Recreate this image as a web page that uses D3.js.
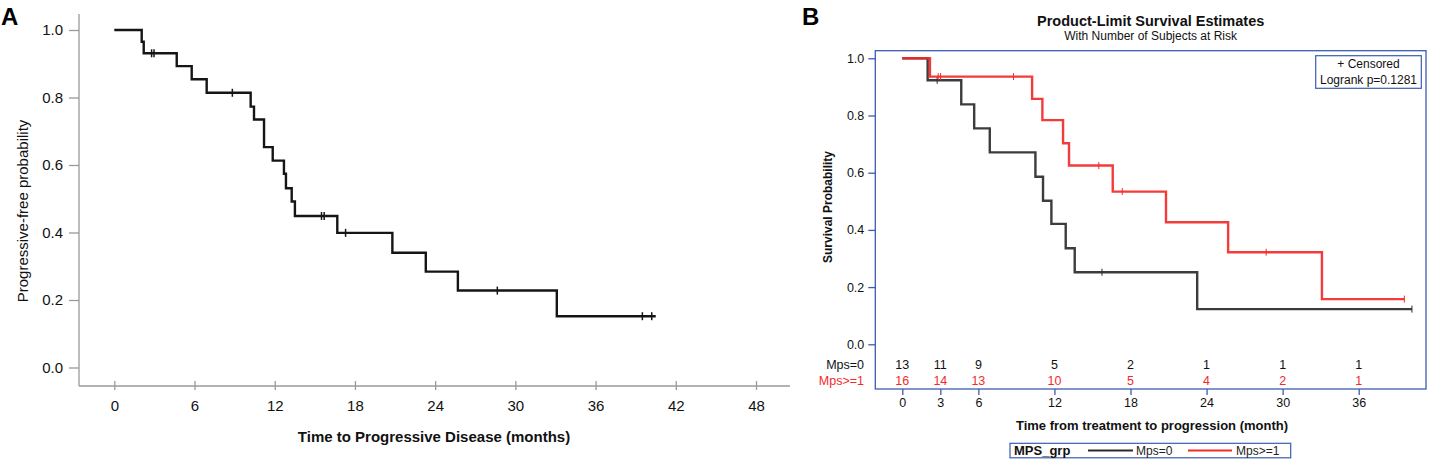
<!DOCTYPE html>
<html>
<head>
<meta charset="utf-8">
<script src="https://cdn.jsdelivr.net/npm/d3@7"></script>
<style>
    body { margin: 0; background: #fff; }
    svg { font-family: "Liberation Sans", Arial, sans-serif; }
</style>
</head>
<body>
<div id="chart"></div>
<script>

// Panel A - all patients
var timesA = [2.05, 2.2, 4.67, 5.79, 6.91, 10.2, 10.45, 11.2, 11.85, 12.69, 12.84, 13.27, 13.51, 16.68, 20.8, 23.3, 25.7, 33.1];
var survA = [0.965, 0.931, 0.893, 0.854, 0.814, 0.773, 0.735, 0.653, 0.613, 0.574, 0.531, 0.492, 0.449, 0.399, 0.340, 0.284, 0.228, 0.152];
var censA = [2.79, 2.97, 8.83, 15.5, 15.7, 17.3, 28.65, 39.5, 40.2];
var endA = 40.5;
var xTicksA = [0, 6, 12, 18, 24, 30, 36, 42, 48];
var yTicksA = [0, 0.2, 0.4, 0.6, 0.8, 1.0];

// Panel B - by MPS group
var timesMps0 = [2.0, 4.65, 5.67, 6.9, 10.5, 11.1, 11.76, 12.89, 13.6, 23.26];
var survMps0 = [0.923, 0.839, 0.755, 0.671, 0.586, 0.502, 0.421, 0.336, 0.252, 0.123];
var censMps0 = [2.75, 15.75, 40.2];
var endMps0 = 40.2;

var timesMps1 = [2.18, 10.24, 11.05, 12.68, 13.15, 16.6, 20.8, 25.7, 33.1];
var survMps1 = [0.936, 0.858, 0.784, 0.703, 0.625, 0.534, 0.427, 0.322, 0.158];
var censMps1 = [2.83, 3.02, 8.77, 15.5, 17.35, 28.7, 39.6];
var endMps1 = 39.6;

var xTicksB = [0, 3, 6, 12, 18, 24, 30, 36];
var yTicksB = [0, 0.2, 0.4, 0.6, 0.8, 1.0];
var riskMps0 = [13, 11, 9, 5, 2, 1, 1, 1];
var riskMps1 = [16, 14, 13, 10, 5, 4, 2, 1];
var groupNames = ["Mps=0", "Mps>=1"];

var blue = "#3b5cb0";
var red = "#f32a2a";

var svg = d3.select("#chart")
    .append("svg")
    .attr("width", 1429)
    .attr("height", 467);

// step points for a KM curve
function kmPoints(times, survs, end) {
    var pts = [[0, 1]];
    times.forEach(function(t, i) { pts.push([t, survs[i]]); });
    pts.push([end, survs[survs.length - 1]]);
    return pts;
}

function survAt(times, survs, t) {
    var s = 1;
    times.forEach(function(tt, i) { if (tt <= t) s = survs[i]; });
    return s;
}

/* ---------------- Panel A ---------------- */
var xA = d3.scaleLinear().domain([0, 48]).range([114.3, 756]);
var yA = d3.scaleLinear().domain([0, 1]).range([367.5, 30]);
var gA = svg.append("g");

gA.append("text")
    .attr("x", 1).attr("y", 25)
    .style("font-size", "24px").style("font-weight", "bold")
    .text("A");

// axes
gA.append("line")
    .attr("x1", 79).attr("x2", 79).attr("y1", 14).attr("y2", 386)
    .attr("stroke", "#9a9a9a").attr("stroke-width", 1.3);
gA.append("line")
    .attr("x1", 79).attr("x2", 790).attr("y1", 386).attr("y2", 386)
    .attr("stroke", "#9a9a9a").attr("stroke-width", 1.3);

var yAxisA = gA.append("g")
    .attr("transform", "translate(79,0)")
    .call(d3.axisLeft(yA).tickValues(yTicksA).tickFormat(d3.format(".1f")).tickSize(10).tickPadding(6));
var xAxisA = gA.append("g")
    .attr("transform", "translate(0,381)")
    .call(d3.axisBottom(xA).tickValues(xTicksA).tickSize(9).tickPadding(10));

[yAxisA, xAxisA].forEach(function(ax) {
    ax.select(".domain").remove();
    ax.selectAll("line").attr("stroke", "#9a9a9a").attr("stroke-width", 1.3);
    ax.selectAll("text").attr("fill", "#111")
        .style("font-size", "15px").style("font-family", "inherit");
});

gA.append("text")
    .attr("x", 434).attr("y", 442)
    .attr("text-anchor", "middle")
    .attr("fill", "#111")
    .style("font-size", "15px").style("font-weight", "bold")
    .text("Time to Progressive Disease (months)");

gA.append("text")
    .attr("transform", "translate(28,211) rotate(-90)")
    .attr("text-anchor", "middle")
    .attr("fill", "#111")
    .style("font-size", "15px")
    .text("Progressive-free probability");

var lineA = d3.line()
    .x(function(d) { return xA(d[0]); })
    .y(function(d) { return yA(d[1]); })
    .curve(d3.curveStepAfter);

gA.append("path")
    .datum(kmPoints(timesA, survA, endA))
    .attr("d", lineA)
    .attr("fill", "none")
    .attr("stroke", "#151515")
    .attr("stroke-width", 2.4);

gA.selectAll(".censA")
    .data(censA)
    .enter().append("line")
    .attr("class", "censA")
    .attr("x1", function(d) { return xA(d); })
    .attr("x2", function(d) { return xA(d); })
    .attr("y1", function(d) { return yA(survAt(timesA, survA, d)) - 4; })
    .attr("y2", function(d) { return yA(survAt(timesA, survA, d)) + 4; })
    .attr("stroke", "#151515")
    .attr("stroke-width", 1.5);

/* ---------------- Panel B ---------------- */
var xB = d3.scaleLinear().domain([0, 36]).range([902.3, 1358.7]);
var yB = d3.scaleLinear().domain([0, 1]).range([344.3, 58.3]);
var gB = svg.append("g");
var frame = {x: 875.3, y: 50.7, w: 550.7, h: 338.3};

gB.append("text")
    .attr("x", 802).attr("y", 25)
    .style("font-size", "24px").style("font-weight", "bold")
    .text("B");

gB.append("text")
    .attr("x", frame.x + frame.w / 2).attr("y", 25.5)
    .attr("text-anchor", "middle")
    .attr("fill", "#111")
    .style("font-size", "14.5px").style("font-weight", "bold")
    .text("Product-Limit Survival Estimates");
gB.append("text")
    .attr("x", frame.x + frame.w / 2).attr("y", 40)
    .attr("text-anchor", "middle")
    .attr("fill", "#111")
    .style("font-size", "12px")
    .text("With Number of Subjects at Risk");

gB.append("rect")
    .attr("x", frame.x).attr("y", frame.y)
    .attr("width", frame.w).attr("height", frame.h)
    .attr("fill", "none")
    .attr("stroke", blue)
    .attr("stroke-width", 1.3);

var yAxisB = gB.append("g")
    .attr("transform", "translate(" + frame.x + ",0)")
    .call(d3.axisLeft(yB).tickValues(yTicksB).tickFormat(d3.format(".1f")).tickSize(7).tickPadding(4));
var xAxisB = gB.append("g")
    .attr("transform", "translate(0," + (frame.y + frame.h) + ")")
    .call(d3.axisBottom(xB).tickValues(xTicksB).tickSize(6).tickPadding(3));

[yAxisB, xAxisB].forEach(function(ax) {
    ax.select(".domain").remove();
    ax.selectAll("line").attr("stroke", blue).attr("stroke-width", 1.3);
    ax.selectAll("text").attr("fill", "#111")
        .style("font-size", "12.5px").style("font-family", "inherit");
});

gB.append("text")
    .attr("x", 1152).attr("y", 430)
    .attr("text-anchor", "middle")
    .attr("fill", "#111")
    .style("font-size", "13px").style("font-weight", "bold")
    .text("Time from treatment to progression (month)");

gB.append("text")
    .attr("transform", "translate(832,207) rotate(-90)")
    .attr("text-anchor", "middle")
    .attr("fill", "#111")
    .style("font-size", "12px").style("font-weight", "bold")
    .text("Survival Probability");

// censored / logrank box
gB.append("rect")
    .attr("x", 1315.7).attr("y", 55.7)
    .attr("width", 105.6).attr("height", 32.6)
    .attr("fill", "#fff")
    .attr("stroke", blue)
    .attr("stroke-width", 1.2);
gB.append("text")
    .attr("x", 1368.5).attr("y", 67.5)
    .attr("text-anchor", "middle")
    .attr("fill", "#111")
    .style("font-size", "12px")
    .text("+ Censored");
gB.append("text")
    .attr("x", 1368.5).attr("y", 84)
    .attr("text-anchor", "middle")
    .attr("fill", "#111")
    .style("font-size", "12px")
    .text("Logrank p=0.1281");

var lineB = d3.line()
    .x(function(d) { return xB(d[0]); })
    .y(function(d) { return yB(d[1]); })
    .curve(d3.curveStepAfter);

var groups = [
    {name: groupNames[0], times: timesMps0, surv: survMps0, cens: censMps0, end: endMps0, color: "#2b2b2b", risk: riskMps0},
    {name: groupNames[1], times: timesMps1, surv: survMps1, cens: censMps1, end: endMps1, color: red, risk: riskMps1}
];

groups.forEach(function(g, gi) {
    gB.append("path")
        .datum(kmPoints(g.times, g.surv, g.end))
        .attr("d", lineB)
        .attr("fill", "none")
        .attr("stroke", g.color)
        .attr("stroke-width", 2.4)
        .attr("stroke-opacity", 0.92);

    gB.selectAll(".cens" + gi)
        .data(g.cens)
        .enter().append("line")
        .attr("class", "cens" + gi)
        .attr("x1", function(d) { return xB(d); })
        .attr("x2", function(d) { return xB(d); })
        .attr("y1", function(d) { return yB(survAt(g.times, g.surv, d)) - 3.5; })
        .attr("y2", function(d) { return yB(survAt(g.times, g.surv, d)) + 3.5; })
        .attr("stroke", g.color)
        .attr("stroke-width", 1);

    // number at risk row
    var rowY = 368.5 + gi * 16;
    gB.append("text")
        .attr("x", 864).attr("y", rowY)
        .attr("text-anchor", "end")
        .attr("fill", gi === 0 ? "#111" : red)
        .style("font-size", "12.5px")
        .text(g.name);
    gB.selectAll(".risk" + gi)
        .data(g.risk)
        .enter().append("text")
        .attr("class", "risk" + gi)
        .attr("x", function(d, i) { return xB(xTicksB[i]); })
        .attr("y", rowY)
        .attr("text-anchor", "middle")
        .attr("fill", gi === 0 ? "#111" : red)
        .style("font-size", "12.5px")
        .text(function(d) { return d; });
});

// legend
var leg = gB.append("g");
leg.append("rect")
    .attr("x", 1010).attr("y", 443.3)
    .attr("width", 280.7).attr("height", 14.5)
    .attr("fill", "#fff")
    .attr("stroke", blue)
    .attr("stroke-width", 1.2);
leg.append("text")
    .attr("x", 1014).attr("y", 455)
    .attr("fill", "#111")
    .style("font-size", "13px").style("font-weight", "bold")
    .text("MPS_grp");
var legItems = [
    {x1: 1088, x2: 1133, tx: 1136, color: "#2b2b2b", name: groupNames[0]},
    {x1: 1188, x2: 1232, tx: 1236, color: red, name: groupNames[1]}
];
legItems.forEach(function(d) {
    leg.append("line")
        .attr("x1", d.x1).attr("x2", d.x2)
        .attr("y1", 450.5).attr("y2", 450.5)
        .attr("stroke", d.color)
        .attr("stroke-width", 2.2);
    leg.append("text")
        .attr("x", d.tx).attr("y", 455)
        .attr("fill", "#222")
        .style("font-size", "12px")
        .text(d.name);
});

</script>
</body>
</html>
